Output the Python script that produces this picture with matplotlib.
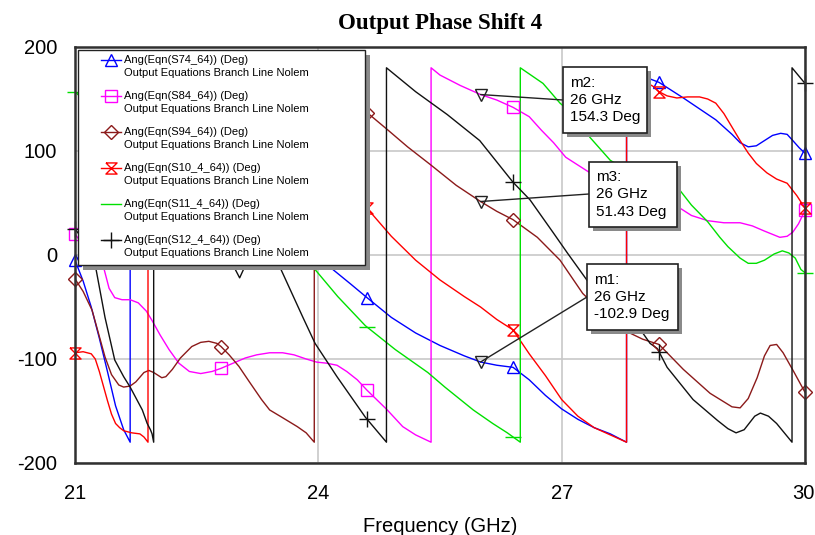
import numpy as np
import matplotlib
matplotlib.use("Agg")
import matplotlib.pyplot as plt
from matplotlib.patches import Rectangle
from matplotlib.lines import Line2D
from matplotlib.transforms import ScaledTranslation

plt.rcParams['font.family'] = ['Liberation Sans', 'DejaVu Sans']

title = "Output Phase Shift 4"
xlabel = "Frequency (GHz)"
xticks = [21, 24, 27, 30]
yticks = [-200, -100, 0, 100, 200]
marker_freqs = [21.0, 22.8, 24.6, 26.4, 28.2, 30.0]
legend_names = ["Ang(Eqn(S74_64)) (Deg)", "Ang(Eqn(S84_64)) (Deg)", "Ang(Eqn(S94_64)) (Deg)",
                "Ang(Eqn(S10_4_64)) (Deg)", "Ang(Eqn(S11_4_64)) (Deg)", "Ang(Eqn(S12_4_64)) (Deg)"]
legend_sub = "Output Equations Branch Line Nolem"

# S74 (blue)
s74_f = [21.0, 21.1, 21.2, 21.3, 21.4, 21.5, 21.6, 21.68, 21.68, 22.3, 22.8, 23.3, 23.8, 24.18,
         24.4, 24.6, 24.9, 25.2, 25.5, 25.8, 26.0, 26.2, 26.4, 26.6, 26.8, 27.0, 27.2, 27.4, 27.6,
         27.8, 27.8, 28.0, 28.2, 28.5, 28.9, 29.1, 29.2, 29.3, 29.4, 29.5, 29.6, 29.7, 29.78,
         29.85, 29.93, 30.0]
s74_p = [-5, -25, -50, -80, -112, -145, -168, -180, 180, 120, 75, 40, 10, -14,
         -28, -41, -60, -75, -87, -97, -102.9, -106, -108, -120, -135, -148, -158, -166, -172,
         -180, 180, 172, 166, 151, 130, 116, 108, 104, 105, 110, 115, 117, 116,
         110, 103, 98]

# S84 (magenta)
s84_f = [21.0, 21.2, 21.36, 21.42, 21.49, 21.58, 21.68, 21.78, 21.88, 21.95, 22.05, 22.16, 22.28,
         22.41, 22.55, 22.69, 22.8, 22.95, 23.1, 23.24, 23.4, 23.56, 23.7, 23.85, 23.98, 24.1,
         24.23, 24.35, 24.48, 24.6, 24.85, 25.04, 25.2, 25.39, 25.39, 25.5, 25.75,
         26.0, 26.2, 26.4, 26.6, 26.75, 26.9, 27.05, 27.35, 27.6, 27.9, 28.2, 28.46, 28.6, 28.8,
         29.0, 29.2, 29.35, 29.5, 29.69, 29.78, 29.85, 29.92, 30.0]
s84_p = [20, 0, -14, -32, -41, -43, -43, -46, -54, -63, -77, -91, -104,
         -112, -114, -112, -109, -104, -99, -96, -94, -94, -96, -100, -103, -104,
         -106, -112, -120, -130, -149, -165, -173, -180, 180, 173, 163,
         154.3, 149, 142, 133, 120, 108, 94, 79, 70, 60, 50, 45, 38, 33,
         31, 31, 28, 23, 17, 18, 22, 30, 43]

# S94 (brown)
s94_f = [21.0, 21.1, 21.21, 21.37, 21.45, 21.54, 21.6, 21.68, 21.75, 21.85, 21.91, 21.97, 22.07,
         22.12, 22.2, 22.3, 22.44, 22.55, 22.65, 22.75, 22.8, 22.9, 23.02, 23.15, 23.3, 23.4,
         23.55, 23.74, 23.85, 23.95, 23.95, 24.3, 24.6, 24.86, 25.1,
         25.38, 25.7, 26.0, 26.2, 26.4, 26.7, 26.98, 27.26, 27.5, 27.84, 28.0, 28.2, 28.5, 28.83,
         29.1, 29.2, 29.3, 29.41, 29.5, 29.57, 29.65, 29.73, 29.86, 30.0]
s94_p = [-23, -35, -53, -98, -115, -125, -127, -126, -122, -113, -111, -113, -118,
         -117, -110, -99, -88, -84, -83, -85, -88, -96, -107, -122, -139, -149,
         -156, -165, -171, -180, 180, 158, 137, 120, 104,
         87, 67, 51.43, 42, 34, 17, -5, -37, -55, -75, -81, -86, -110, -133,
         -146, -147, -138, -118, -97, -87, -86, -94, -112, -132]

# S10_4 (red)
s10_f = [21.0, 21.1, 21.2, 21.25, 21.3, 21.35, 21.4, 21.45, 21.5, 21.55, 21.6, 21.7, 21.8, 21.85,
         21.9, 21.9, 22.4, 22.8, 23.3, 23.8, 24.2, 24.6, 24.9, 25.2, 25.5, 25.8, 26.0, 26.2, 26.4,
         26.6, 26.8, 27.0, 27.2, 27.4, 27.6, 27.8, 27.8, 28.0, 28.13, 28.2, 28.3, 28.42, 28.55,
         28.7, 28.8, 28.9, 29.0, 29.1, 29.2, 29.3, 29.4, 29.53, 29.65, 29.78, 29.9, 30.0]
s10_p = [-94, -93, -95, -100, -112, -126, -140, -153, -162, -166, -169, -171, -172, -175,
         -180, 180, 160, 140, 115, 85, 65, 45, 18, -5, -24, -40, -50, -62, -72,
         -95, -116, -139, -155, -166, -173, -180, 180, 168, 162, 157, 153, 151, 152,
         152, 150, 146, 136, 123, 110, 98, 88, 79, 73, 69, 57, 45]

# S11_4 (green)
s11_f = [21.0, 21.5, 22.0, 22.5, 23.0, 23.5, 23.96, 24.24, 24.58, 24.95, 25.35, 25.56, 25.91,
         26.15, 26.33, 26.49, 26.49, 26.77, 26.98, 27.1, 27.35, 27.6, 27.9, 28.2, 28.46, 28.6,
         28.8, 28.95, 29.05, 29.2, 29.3, 29.4, 29.5, 29.62, 29.72, 29.8, 29.88, 29.95, 30.0]
s11_p = [157, 120, 90, 62, 36, 12, -14, -40, -68, -91, -113, -127, -149,
         -162, -171, -180, 180, 165, 146, 138, 113, 91, 77, 68, 62, 48,
         32, 17, 8, -3, -8, -8, -5, 1, 4, 2, -3, -14, -17]

# S12_4 (black)
s12_f = [21.0, 21.15, 21.26, 21.37, 21.49, 21.6, 21.68, 21.83, 21.89, 21.93, 21.95, 21.97, 21.97,
         22.4, 22.8, 22.95, 23.03, 23.1, 23.3, 23.54, 23.81, 23.96, 24.23, 24.58, 24.84, 24.84,
         25.2, 25.59, 25.99, 26.4, 26.61, 26.9, 27.07, 27.31, 27.6, 28.0, 28.09, 28.18, 28.3,
         28.62, 28.92, 29.05, 29.15, 29.25, 29.38, 29.45, 29.55, 29.65, 29.84, 29.84, 30.0]
s12_p = [25, 10, -14, -60, -101, -117, -127, -149, -162, -168, -172, -180, 180,
         100, 30, -10, -22, -10, 0, -14, -60, -85, -117, -156, -180, 180,
         157, 135, 110, 70, 53, 21, 2, -24, -50, -75, -85, -90, -108,
         -139, -159, -167, -171, -168, -155, -152, -155, -162, -180, 180, 165]

m_names = ["m1", "m2", "m3"]
m_freq = 26
m_vals = [-102.9, 154.3, 51.43]

hourglass = [(-1, 1), (1, 1), (-1, -1), (1, -1), (-1, 1)]
series = [
    (s74_f, s74_p, '#0000FF', '^', 9),
    (s84_f, s84_p, '#FF00FF', 's', 9),
    (s94_f, s94_p, '#8B1A1A', 'D', 7),
    (s10_f, s10_p, '#FF0000', hourglass, 8),
    (s11_f, s11_p, '#00E000', '_', 12),
    (s12_f, s12_p, '#111111', '+', 11),
]

fig = plt.figure(figsize=(8.15, 5.35), dpi=100)
AX_L, AX_R, AX_T, AX_B = 75, 805, 47, 463
W, H = 815, 535
ax = fig.add_axes([AX_L / W, 1 - AX_B / H, (AX_R - AX_L) / W, (AX_B - AX_T) / H])

def pa(px, py):
    return ((px - AX_L) / (AX_R - AX_L), (AX_B - py) / (AX_B - AX_T))

for f, p, c, mk, ms in series:
    ax.plot(f, p, color=c, lw=1.0, zorder=3)
    mv = np.interp(marker_freqs, f, p)
    ax.plot(marker_freqs, mv, linestyle='none', marker=mk, ms=ms, mec=c, mfc='none',
            mew=1.0, zorder=4, clip_on=False)

ax.set_xlim(21, 30)
ax.set_ylim(-200, 200)
ax.set_xticks(xticks)
ax.set_yticks(yticks)
ax.set_xticklabels([str(t) for t in xticks])
ax.set_yticklabels([str(t) for t in yticks])
ax.tick_params(axis='both', length=0, labelsize=14.5)
ax.tick_params(axis='y', pad=13)
ax.tick_params(axis='x', pad=15)
last = ax.get_xticklabels()[-1]
last.set_transform(last.get_transform() + ScaledTranslation(-2 / 100, 0, fig.dpi_scale_trans))
ax.grid(True, color='#c8c8c8', lw=1.2, zorder=1)
for s in ax.spines.values():
    s.set_color('#303030')
    s.set_linewidth(1.8)
    s.set_zorder(6)
ax.set_xlabel(xlabel, fontsize=14.5, labelpad=10)
fig.text(440 / W, 1 - 24 / H, title, ha='center', va='center', fontsize=16.5,
         fontweight='bold', family=['Liberation Serif', 'DejaVu Serif'])

# marker triangles + annotation boxes
box_px = {"m1": (587, 264, 678, 330), "m2": (563, 67, 647, 133), "m3": (589, 162, 677, 227)}
lead_py = {"m1": 297, "m2": 100, "m3": 194}
for name, val in zip(m_names, m_vals):
    ax.plot([m_freq], [val], linestyle='none', marker='v', ms=9, mec='#222222', mfc='none',
            mew=1.0, zorder=5)
    x0, y0, x1, y1 = box_px[name]
    bx0, by1 = pa(x0, y1)
    bx1, by0 = pa(x1, y0)
    ym = (by0 + by1) / 2
    ax.annotate("", xy=(m_freq, val), xycoords='data', xytext=(bx0, pa(0, lead_py[name])[1]),
                textcoords='axes fraction',
                arrowprops=dict(arrowstyle='-', color='#222222', lw=1.0, shrinkA=0, shrinkB=0), zorder=7)
    sx, sy = 4 / (AX_R - AX_L), 4 / (AX_B - AX_T)
    ax.add_patch(Rectangle((bx0 + sx, by1 - sy), bx1 - bx0, by0 - by1, transform=ax.transAxes,
                           facecolor='#8a8a8a', edgecolor='none', zorder=8, clip_on=False))
    ax.add_patch(Rectangle((bx0, by1), bx1 - bx0, by0 - by1, transform=ax.transAxes,
                           facecolor='white', edgecolor='#222222', lw=1.2, zorder=9, clip_on=False))
    ax.text(bx0 + 7 / (AX_R - AX_L), ym, f"{name}:\n{m_freq} GHz\n{val:g} Deg",
            transform=ax.transAxes, ha='left', va='center', fontsize=11, linespacing=1.3, zorder=10)

# legend (drawn manually to keep handles aligned with the first text line)
lx0, ly1 = pa(78, 265)
lx1, ly0 = pa(365, 50)
sx, sy = 5 / (AX_R - AX_L), 5 / (AX_B - AX_T)
ax.add_patch(Rectangle((lx0 + sx, ly1 - sy), lx1 - lx0, ly0 - ly1, transform=ax.transAxes,
                       facecolor='#8a8a8a', edgecolor='none', zorder=11, clip_on=False))
ax.add_patch(Rectangle((lx0, ly1), lx1 - lx0, ly0 - ly1, transform=ax.transAxes,
                       facecolor='white', edgecolor='#222222', lw=1.0, zorder=12, clip_on=False))
row_py = [60, 96, 132, 168, 204, 240]
for (f, p, c, mk, ms), name, rp in zip(series, legend_names, row_py):
    hx0, hy = pa(101, rp)
    hx1, _ = pa(121, rp)
    ax.add_line(Line2D([hx0, hx1], [hy, hy], transform=ax.transAxes, color=c, lw=1.0, zorder=13))
    if mk != '_':
        ax.add_line(Line2D([(hx0 + hx1) / 2], [hy], transform=ax.transAxes, color=c, marker=mk,
                           ms=ms, mfc='none', mec=c, mew=1.0, linestyle='none', zorder=13))
    tx, _ = pa(124, rp)
    ax.text(tx, hy, name, transform=ax.transAxes, ha='left', va='center', fontsize=8, zorder=13)
    _, ty2 = pa(124, rp + 13)
    ax.text(tx, ty2, legend_sub, transform=ax.transAxes, ha='left', va='center', fontsize=8,
            zorder=13)

fig.savefig("out.png", dpi=100)
